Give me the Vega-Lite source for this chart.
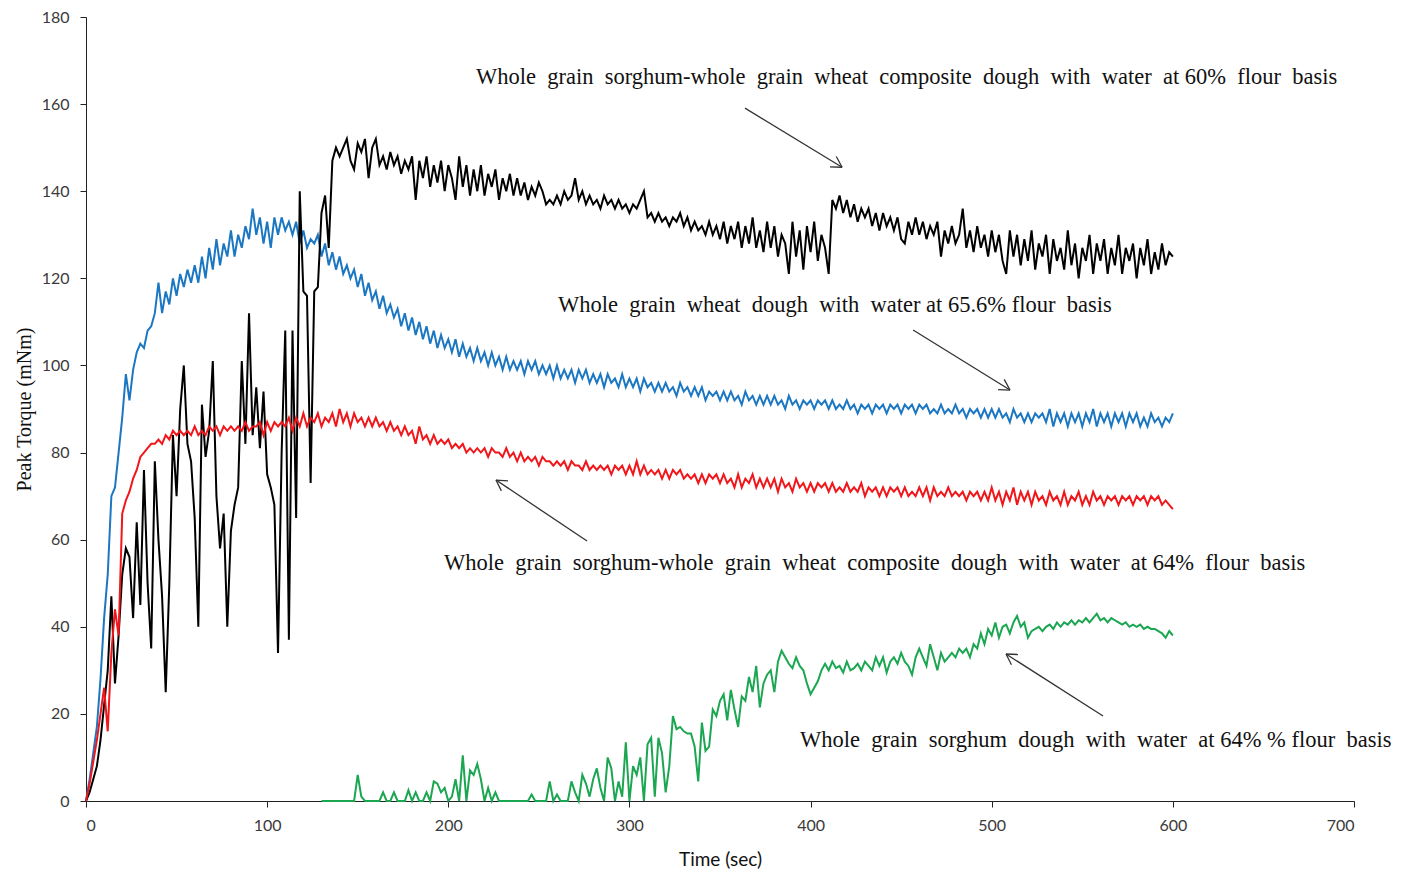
{
"$schema": "https://vega.github.io/schema/vega-lite/v6.json",
"width": 1268, "height": 784,
"autosize": {"type": "none"},
"padding": {"left": 86, "top": 17, "right": 48, "bottom": 73},
"background": "white",
"config": {
 "view": {"stroke": null},
 "axis": {"grid": false, "domainColor": "#222", "tickColor": "#222", "tickSize": 6, "labelFont": "Lato", "labelFontSize": 16, "labelColor": "#3a3a3a", "titleFontWeight": "normal", "titleColor": "#111", "zindex": 1},
 "axisX": {"tickCount": 7, "labelPadding": 10, "titleFont": "Lato", "titleFontSize": 19, "titlePadding": 17},
 "axisY": {"tickCount": 9, "labelPadding": 11, "titleFont": "Liberation Serif", "titleFontSize": 20, "titlePadding": 7}
},
"datasets": {
 "series": [
{"t":0,"b":0,"k":0,"r":0},{"t":2,"b":5,"k":2,"r":4},{"t":4,"b":11,"k":5,"r":9},{"t":6,"b":17,"k":8,"r":14},{"t":8,"b":28,"k":14,"r":20},{"t":10,"b":42,"k":22,"r":26},{"t":12,"b":52,"k":30,"r":16},{"t":14,"b":70,"k":47,"r":34},{"t":16,"b":72,"k":27,"r":44},{"t":18,"b":80,"k":38,"r":38},
{"t":20,"b":88,"k":52,"r":66},{"t":22,"b":98,"k":58,"r":69},{"t":24,"b":92,"k":56,"r":71},{"t":26,"b":99,"k":42,"r":74},{"t":28,"b":103,"k":64,"r":76},{"t":30,"b":105,"k":45,"r":79},{"t":32,"b":104,"k":76,"r":80},{"t":34,"b":108,"k":50,"r":81},{"t":36,"b":109,"k":35,"r":82},{"t":38,"b":112,"k":78,"r":82},
{"t":40,"b":119,"k":60,"r":83},{"t":42,"b":112,"k":47,"r":82},{"t":44,"b":117,"k":25,"r":84},{"t":46,"b":114,"k":50,"r":83},{"t":48,"b":120,"k":84,"r":85},{"t":50,"b":116,"k":70,"r":84},{"t":52,"b":121,"k":90,"r":85},{"t":54,"b":118,"k":100,"r":84},{"t":56,"b":122,"k":82,"r":85},{"t":58,"b":119,"k":78,"r":84},
{"t":60,"b":123,"k":65,"r":86},{"t":62,"b":119,"k":40,"r":84},{"t":64,"b":125,"k":91,"r":85},{"t":66,"b":120,"k":79,"r":84},{"t":68,"b":127,"k":85,"r":86},{"t":70,"b":122,"k":101,"r":85},{"t":72,"b":129,"k":70,"r":86},{"t":74,"b":123,"k":58,"r":84},{"t":76,"b":128,"k":66,"r":86},{"t":78,"b":125,"k":40,"r":85},
{"t":80,"b":131,"k":62,"r":86},{"t":82,"b":125,"k":68,"r":85},{"t":84,"b":130,"k":72,"r":86},{"t":86,"b":127,"k":101,"r":85},{"t":88,"b":132,"k":82,"r":87},{"t":90,"b":129,"k":112,"r":85},{"t":92,"b":136,"k":84,"r":86},{"t":94,"b":130,"k":95,"r":86},{"t":96,"b":134,"k":81,"r":87},{"t":98,"b":128,"k":94,"r":84},
{"t":100,"b":133,"k":75,"r":87},{"t":102,"b":127,"k":72,"r":85},{"t":104,"b":134,"k":68,"r":87},{"t":106,"b":130,"k":34,"r":86},{"t":108,"b":134,"k":80,"r":87},{"t":110,"b":131,"k":108,"r":86},{"t":112,"b":133,"k":37,"r":88},{"t":114,"b":130,"k":108,"r":85},{"t":116,"b":133,"k":65,"r":88},{"t":118,"b":128,"k":140,"r":86},
{"t":120,"b":131,"k":117,"r":89},{"t":122,"b":127,"k":116,"r":86},{"t":124,"b":129,"k":73,"r":88},{"t":126,"b":128,"k":117,"r":87},{"t":128,"b":130,"k":118,"r":89},{"t":130,"b":125,"k":135,"r":86,"g":0},{"t":132,"b":128,"k":139,"r":88,"g":0},{"t":134,"b":123,"k":127,"r":87,"g":0},{"t":136,"b":126,"k":147,"r":89,"g":0},{"t":138,"b":122,"k":150,"r":86,"g":0},
{"t":140,"b":125,"k":148,"r":90,"g":0},{"t":142,"b":121,"k":150,"r":87,"g":0},{"t":144,"b":123,"k":152,"r":89,"g":0},{"t":146,"b":120,"k":147,"r":86,"g":0},{"t":148,"b":122,"k":145,"r":89,"g":0},{"t":150,"b":118,"k":151,"r":87,"g":6},{"t":152,"b":121,"k":149,"r":88,"g":1},{"t":154,"b":116,"k":152,"r":86,"g":0},{"t":156,"b":119,"k":143,"r":88,"g":0},{"t":158,"b":115,"k":150,"r":86,"g":0},
{"t":160,"b":117,"k":152,"r":88,"g":0},{"t":162,"b":113,"k":146,"r":86,"g":0},{"t":164,"b":116,"k":148,"r":87,"g":2},{"t":166,"b":112,"k":145,"r":85,"g":0},{"t":168,"b":114,"k":149,"r":87,"g":0},{"t":170,"b":111,"k":146,"r":85,"g":2},{"t":172,"b":113,"k":148,"r":86,"g":0},{"t":174,"b":109,"k":144,"r":84,"g":0},{"t":176,"b":112,"k":147,"r":86,"g":0},{"t":178,"b":108,"k":145,"r":84,"g":2.5},
{"t":180,"b":111,"k":148,"r":85,"g":0},{"t":182,"b":107,"k":138,"r":82,"g":2},{"t":184,"b":110,"k":147,"r":86,"g":0},{"t":186,"b":106,"k":143,"r":83,"g":0},{"t":188,"b":109,"k":148,"r":84,"g":2},{"t":190,"b":105,"k":141,"r":82,"g":0},{"t":192,"b":108,"k":146,"r":84,"g":4.5},{"t":194,"b":104,"k":142,"r":82,"g":4},{"t":196,"b":107,"k":147,"r":83,"g":2},{"t":198,"b":104,"k":140,"r":82,"g":3},
{"t":200,"b":106,"k":146,"r":83,"g":0},{"t":202,"b":103,"k":143,"r":81,"g":1},{"t":204,"b":106,"k":138,"r":82,"g":5},{"t":206,"b":102,"k":148,"r":81,"g":0},{"t":208,"b":105,"k":141,"r":82,"g":10.5},{"t":210,"b":102,"k":146,"r":80,"g":0},{"t":212,"b":104,"k":139,"r":81,"g":7},{"t":214,"b":101,"k":145,"r":80,"g":6},{"t":216,"b":104,"k":140,"r":81,"g":8.5},{"t":218,"b":101,"k":146,"r":80,"g":5},
{"t":220,"b":103,"k":139,"r":81,"g":0},{"t":222,"b":100,"k":144,"r":79,"g":3},{"t":224,"b":103,"k":141,"r":81,"g":0},{"t":226,"b":100,"k":145,"r":80,"g":2},{"t":228,"b":102,"k":138,"r":80,"g":0},{"t":230,"b":99,"k":143,"r":79,"g":0},{"t":232,"b":102,"k":140,"r":81,"g":0},{"t":234,"b":99,"k":144,"r":79,"g":0},{"t":236,"b":101,"k":139,"r":80,"g":0},{"t":238,"b":99,"k":143,"r":78,"g":0},
{"t":240,"b":101,"k":139,"r":80,"g":0},{"t":242,"b":98,"k":142,"r":78,"g":0},{"t":244,"b":101,"k":138,"r":79,"g":0},{"t":246,"b":99,"k":141,"r":78,"g":1.5},{"t":248,"b":101,"k":139,"r":79,"g":0},{"t":250,"b":98,"k":142,"r":77,"g":0},{"t":252,"b":100,"k":140,"r":79,"g":0},{"t":254,"b":98,"k":137,"r":78,"g":0},{"t":256,"b":100,"k":138,"r":78,"g":4.5},{"t":258,"b":97,"k":137,"r":77,"g":0},
{"t":260,"b":100,"k":139,"r":78,"g":1.5},{"t":262,"b":97,"k":137,"r":77,"g":0},{"t":264,"b":99,"k":140,"r":78,"g":0},{"t":266,"b":97,"k":138,"r":76,"g":0},{"t":268,"b":99,"k":139,"r":78,"g":4.5},{"t":270,"b":96,"k":143,"r":77,"g":2},{"t":272,"b":99,"k":138,"r":77,"g":0},{"t":274,"b":97,"k":140,"r":76,"g":6},{"t":276,"b":99,"k":137,"r":78,"g":4},{"t":278,"b":96,"k":139,"r":76,"g":1},
{"t":280,"b":98,"k":137,"r":77,"g":5},{"t":282,"b":96,"k":138,"r":76,"g":7.5},{"t":284,"b":98,"k":136,"r":77,"g":3},{"t":286,"b":95,"k":139,"r":76,"g":0},{"t":288,"b":98,"k":137,"r":77,"g":10},{"t":290,"b":96,"k":138,"r":75,"g":7.5},{"t":292,"b":97,"k":136,"r":77,"g":0},{"t":294,"b":95,"k":138,"r":76,"g":4.5},{"t":296,"b":98,"k":136,"r":77,"g":1},{"t":298,"b":95,"k":137,"r":75,"g":13.5},
{"t":300,"b":97,"k":135,"r":77,"g":0},{"t":302,"b":95,"k":137,"r":75,"g":8},{"t":304,"b":97,"k":136,"r":78,"g":6},{"t":306,"b":94,"k":138,"r":75,"g":10},{"t":308,"b":97,"k":140,"r":77,"g":0},{"t":310,"b":95,"k":134,"r":75,"g":13},{"t":312,"b":96,"k":135,"r":76,"g":14.5},{"t":314,"b":94,"k":133,"r":75,"g":1},{"t":316,"b":96,"k":135,"r":76,"g":14.5},{"t":318,"b":94,"k":133,"r":74,"g":11},
{"t":320,"b":96,"k":134,"r":76,"g":2},{"t":322,"b":94,"k":132,"r":74,"g":8},{"t":324,"b":95,"k":134,"r":76,"g":19.5},{"t":326,"b":93,"k":133,"r":75,"g":16.5},{"t":328,"b":96,"k":135,"r":76,"g":17},{"t":330,"b":94,"k":132,"r":74,"g":16},{"t":332,"b":95,"k":134,"r":75,"g":15.5},{"t":334,"b":93,"k":131,"r":74,"g":15.5},{"t":336,"b":95,"k":133,"r":75,"g":12.5},{"t":338,"b":93,"k":131,"r":73,"g":4.5},
{"t":340,"b":95,"k":132,"r":75,"g":18},{"t":342,"b":92,"k":130,"r":73,"g":11.5},{"t":344,"b":94,"k":133,"r":75,"g":12.5},{"t":346,"b":93,"k":130,"r":74,"g":21},{"t":348,"b":94,"k":132,"r":75,"g":19.5},{"t":350,"b":92,"k":129,"r":73,"g":23},{"t":352,"b":94,"k":133,"r":75,"g":24.5},{"t":354,"b":92,"k":128,"r":73,"g":18.5},{"t":356,"b":94,"k":132,"r":74,"g":25.5},{"t":358,"b":92,"k":129,"r":72,"g":21},
{"t":360,"b":93,"k":133,"r":75,"g":17},{"t":362,"b":91,"k":127,"r":72,"g":24},{"t":364,"b":94,"k":132,"r":74,"g":23},{"t":366,"b":92,"k":128,"r":73,"g":28.5},{"t":368,"b":93,"k":134,"r":75,"g":25},{"t":370,"b":91,"k":127,"r":72,"g":31},{"t":372,"b":93,"k":131,"r":74,"g":21.5},{"t":374,"b":91,"k":126,"r":72,"g":27},{"t":376,"b":93,"k":133,"r":74,"g":29},{"t":378,"b":91,"k":127,"r":72,"g":30},
{"t":380,"b":93,"k":132,"r":74,"g":25},{"t":382,"b":91,"k":125,"r":71,"g":32},{"t":384,"b":92,"k":130,"r":74,"g":34.5},{"t":386,"b":90,"k":128,"r":72,"g":33},{"t":388,"b":93,"k":121,"r":73,"g":31.5},{"t":390,"b":91,"k":133,"r":71,"g":30.5},{"t":392,"b":92,"k":125,"r":74,"g":33},{"t":394,"b":90,"k":131,"r":72,"g":31},{"t":396,"b":92,"k":122,"r":73,"g":30},{"t":398,"b":91,"k":132,"r":71,"g":27},
{"t":400,"b":92,"k":126,"r":73,"g":24.5},{"t":402,"b":90,"k":133,"r":71,"g":26},{"t":404,"b":92,"k":124,"r":73,"g":27.5},{"t":406,"b":91,"k":130,"r":72,"g":30},{"t":408,"b":92,"k":127,"r":73,"g":31.5},{"t":410,"b":90,"k":121,"r":71,"g":30},{"t":412,"b":92,"k":138,"r":73,"g":32},{"t":414,"b":90,"k":136,"r":71,"g":30.5},{"t":416,"b":91,"k":139,"r":72,"g":31},{"t":418,"b":90,"k":135,"r":71,"g":29.5},
{"t":420,"b":92,"k":138,"r":73,"g":32},{"t":422,"b":90,"k":134,"r":71,"g":30},{"t":424,"b":91,"k":137,"r":72,"g":30.5},{"t":426,"b":89,"k":133,"r":71,"g":31.5},{"t":428,"b":91,"k":136,"r":73,"g":30},{"t":430,"b":90,"k":134,"r":70,"g":32},{"t":432,"b":91,"k":136,"r":72,"g":31},{"t":434,"b":89,"k":132,"r":71,"g":30},{"t":436,"b":91,"k":135,"r":72,"g":33},{"t":438,"b":90,"k":131,"r":70,"g":31},
{"t":440,"b":91,"k":135,"r":72,"g":33},{"t":442,"b":89,"k":132,"r":70,"g":29.5},{"t":444,"b":91,"k":134,"r":72,"g":32},{"t":446,"b":90,"k":131,"r":71,"g":33},{"t":448,"b":91,"k":134,"r":72,"g":31.5},{"t":450,"b":89,"k":129,"r":70,"g":34},{"t":452,"b":91,"k":128,"r":72,"g":32},{"t":454,"b":90,"k":133,"r":70,"g":31},{"t":456,"b":91,"k":130,"r":71,"g":29},{"t":458,"b":89,"k":134,"r":70,"g":33},
{"t":460,"b":91,"k":130,"r":72,"g":35},{"t":462,"b":90,"k":133,"r":70,"g":33},{"t":464,"b":91,"k":129,"r":72,"g":31},{"t":466,"b":89,"k":132,"r":69,"g":36},{"t":468,"b":90,"k":130,"r":72,"g":33},{"t":470,"b":89,"k":133,"r":70,"g":30},{"t":472,"b":91,"k":125,"r":71,"g":34},{"t":474,"b":89,"k":131,"r":70,"g":32},{"t":476,"b":90,"k":128,"r":72,"g":33},{"t":478,"b":89,"k":132,"r":70,"g":34},
{"t":480,"b":91,"k":128,"r":71,"g":33},{"t":482,"b":89,"k":130,"r":70,"g":35},{"t":484,"b":90,"k":136,"r":71,"g":34},{"t":486,"b":88,"k":127,"r":69,"g":35},{"t":488,"b":90,"k":131,"r":71,"g":33},{"t":490,"b":89,"k":126,"r":70,"g":36},{"t":492,"b":90,"k":132,"r":71,"g":35},{"t":494,"b":88,"k":127,"r":69,"g":38.5},{"t":496,"b":90,"k":130,"r":71,"g":36},{"t":498,"b":88,"k":125,"r":69,"g":39.5},
{"t":500,"b":90,"k":131,"r":72,"g":38},{"t":502,"b":88,"k":126,"r":69,"g":41},{"t":504,"b":90,"k":130,"r":71,"g":37.5},{"t":506,"b":88,"k":124,"r":68,"g":40},{"t":508,"b":89,"k":121,"r":71,"g":40.5},{"t":510,"b":87,"k":131,"r":69,"g":38.5},{"t":512,"b":90,"k":125,"r":72,"g":41},{"t":514,"b":88,"k":130,"r":68,"g":42.5},{"t":516,"b":89,"k":123,"r":71,"g":40},{"t":518,"b":87,"k":129,"r":69,"g":41},
{"t":520,"b":89,"k":124,"r":71,"g":37.5},{"t":522,"b":87,"k":131,"r":68,"g":39},{"t":524,"b":89,"k":122,"r":71,"g":39.5},{"t":526,"b":88,"k":128,"r":69,"g":40},{"t":528,"b":89,"k":125,"r":70,"g":39},{"t":530,"b":87,"k":130,"r":68,"g":40},{"t":532,"b":90,"k":121,"r":71,"g":40.5},{"t":534,"b":86,"k":129,"r":69,"g":39.5},{"t":536,"b":89,"k":124,"r":70,"g":41},{"t":538,"b":87,"k":127,"r":68,"g":40},
{"t":540,"b":89,"k":122,"r":71,"g":41},{"t":542,"b":86,"k":131,"r":68,"g":40.5},{"t":544,"b":89,"k":123,"r":70,"g":41.5},{"t":546,"b":87,"k":128,"r":69,"g":40.5},{"t":548,"b":89,"k":120,"r":71,"g":41.5},{"t":550,"b":86,"k":127,"r":68,"g":41},{"t":552,"b":89,"k":124,"r":70,"g":42},{"t":554,"b":87,"k":130,"r":68,"g":41},{"t":556,"b":90,"k":121,"r":71,"g":42},{"t":558,"b":86,"k":128,"r":69,"g":43},
{"t":560,"b":89,"k":124,"r":70,"g":41.5},{"t":562,"b":87,"k":129,"r":68,"g":42},{"t":564,"b":89,"k":121,"r":70,"g":41},{"t":566,"b":86,"k":127,"r":69,"g":42},{"t":568,"b":89,"k":123,"r":70,"g":41.5},{"t":570,"b":87,"k":130,"r":68,"g":41},{"t":572,"b":89,"k":121,"r":70,"g":40.5},{"t":574,"b":86,"k":127,"r":69,"g":41},{"t":576,"b":89,"k":124,"r":70,"g":40},{"t":578,"b":87,"k":128,"r":68,"g":40.5},
{"t":580,"b":89,"k":120,"r":70,"g":40},{"t":582,"b":86,"k":127,"r":69,"g":40.5},{"t":584,"b":88,"k":123,"r":70,"g":39.5},{"t":586,"b":86,"k":129,"r":68,"g":40},{"t":588,"b":89,"k":121,"r":70,"g":39.5},{"t":590,"b":87,"k":126,"r":69,"g":39.5},{"t":592,"b":88,"k":122,"r":70,"g":39},{"t":594,"b":86,"k":128,"r":68,"g":38.5},{"t":596,"b":88,"k":123,"r":69,"g":37.5},{"t":598,"b":87,"k":126,"r":68,"g":39},
{"t":600,"b":89,"k":125,"r":67,"g":38}
 ],
 "labels": [
  {"x": 215.3, "y": 166.2, "text": "Whole \u00a0grain \u00a0sorghum-whole \u00a0grain \u00a0wheat \u00a0composite \u00a0dough \u00a0with \u00a0water \u00a0at 60% \u00a0flour \u00a0basis"},
  {"x": 260.6, "y": 113.9, "text": "Whole \u00a0grain \u00a0wheat \u00a0dough \u00a0with \u00a0water at 65.6% flour \u00a0basis"},
  {"x": 197.6, "y": 54.6, "text": "Whole \u00a0grain \u00a0sorghum-whole \u00a0grain \u00a0wheat \u00a0composite \u00a0dough \u00a0with \u00a0water \u00a0at 64% \u00a0flour \u00a0basis"},
  {"x": 394.2, "y": 14.0, "text": "Whole \u00a0grain \u00a0sorghum \u00a0dough \u00a0with \u00a0water \u00a0at 64% % flour \u00a0basis"}
 ],
 "arrows": [
  {"x": 363.8, "y": 159.09, "x2": 417.4, "y2": 145.5},
  {"x": 417.4, "y": 145.5, "x2": 414.2, "y2": 147.96},
  {"x": 417.4, "y": 145.5, "x2": 410.7, "y2": 145.6},
  {"x": 456.6, "y": 108.13, "x2": 510.1, "y2": 94.35},
  {"x": 510.1, "y": 94.35, "x2": 506.9, "y2": 96.79},
  {"x": 510.1, "y": 94.35, "x2": 503.5, "y2": 94.44},
  {"x": 276.6, "y": 59.69, "x2": 226.35, "y2": 73.69},
  {"x": 226.35, "y": 73.69, "x2": 229.3, "y2": 71.21},
  {"x": 226.35, "y": 73.69, "x2": 232.97, "y2": 73.51},
  {"x": 561.45, "y": 19.51, "x2": 507.9, "y2": 33.75},
  {"x": 507.9, "y": 33.75, "x2": 510.9, "y2": 31.29},
  {"x": 507.9, "y": 33.75, "x2": 514.5, "y2": 33.63}
 ]
},
"layer": [
 {"data": {"name": "series"}, "mark": {"type": "line", "color": "#1C77C3", "strokeWidth": 2},
  "encoding": {"x": {"field": "t", "type": "quantitative", "title": "Time (sec)", "scale": {"domain": [0, 700], "nice": false}},
               "y": {"field": "b", "type": "quantitative", "title": "Peak Torque (mNm)", "scale": {"domain": [0, 180], "nice": false}}}},
 {"data": {"name": "series"}, "mark": {"type": "line", "color": "#000000", "strokeWidth": 2},
  "encoding": {"x": {"field": "t", "type": "quantitative", "title": "Time (sec)", "scale": {"domain": [0, 700], "nice": false}},
               "y": {"field": "k", "type": "quantitative", "title": "Peak Torque (mNm)", "scale": {"domain": [0, 180], "nice": false}}}},
 {"data": {"name": "series"}, "mark": {"type": "line", "color": "#F0161A", "strokeWidth": 2},
  "encoding": {"x": {"field": "t", "type": "quantitative", "title": "Time (sec)", "scale": {"domain": [0, 700], "nice": false}},
               "y": {"field": "r", "type": "quantitative", "title": "Peak Torque (mNm)", "scale": {"domain": [0, 180], "nice": false}}}},
 {"data": {"name": "series"}, "mark": {"type": "line", "color": "#1BA651", "strokeWidth": 2},
  "encoding": {"x": {"field": "t", "type": "quantitative", "title": "Time (sec)", "scale": {"domain": [0, 700], "nice": false}},
               "y": {"field": "g", "type": "quantitative", "title": "Peak Torque (mNm)", "scale": {"domain": [0, 180], "nice": false}}}},
 {"data": {"name": "arrows"}, "mark": {"type": "rule", "color": "#333333", "strokeWidth": 1.3},
  "encoding": {"x": {"field": "x", "type": "quantitative", "title": "Time (sec)", "scale": {"domain": [0, 700], "nice": false}},
               "y": {"field": "y", "type": "quantitative", "title": "Peak Torque (mNm)", "scale": {"domain": [0, 180], "nice": false}},
               "x2": {"field": "x2"}, "y2": {"field": "y2"}}},
 {"data": {"name": "labels"}, "mark": {"type": "text", "align": "left", "baseline": "middle", "font": "Liberation Serif", "fontSize": 22.5, "color": "#111111"},
  "encoding": {"x": {"field": "x", "type": "quantitative", "title": "Time (sec)", "scale": {"domain": [0, 700], "nice": false}},
               "y": {"field": "y", "type": "quantitative", "title": "Peak Torque (mNm)", "scale": {"domain": [0, 180], "nice": false}},
               "text": {"field": "text"}}}
]
}
